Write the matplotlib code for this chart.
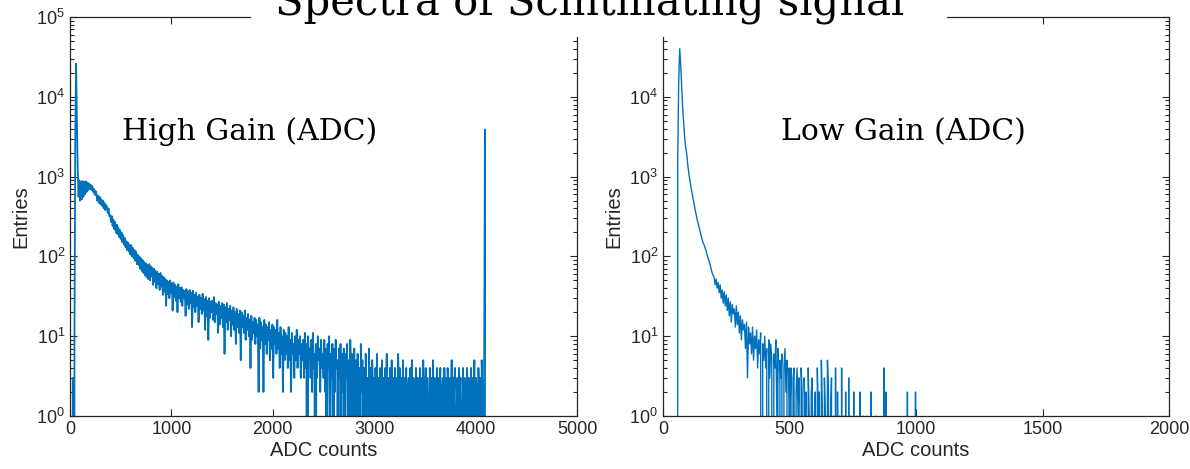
import numpy as np
import matplotlib.pyplot as plt
from matplotlib.patches import Rectangle
from matplotlib.ticker import LogLocator, NullLocator

plt.rcParams['font.family'] = ['Liberation Sans', 'DejaVu Sans']
plt.rcParams['mathtext.default'] = 'regular'

# High gain spectrum, 8 ADC wide bins starting at 0
hg_bin = 8
hg_head = [0, 0, 0, 3, 0, 10, 3000, 26000, 5000, 1300, 560, 900, 500, 860, 520, 880,
           560, 860, 600, 870, 640, 840, 680, 820, 700, 790, 680, 760, 640, 700, 590, 660]
hg_mid = [610, 500, 580, 470, 560, 450, 520, 430, 500, 400, 470, 380, 440,
          420, 350, 400, 320, 330, 270, 320, 240, 290, 220, 270, 200, 250,
          190, 230, 175, 215, 165, 200, 150, 185, 140, 170, 130, 155, 120,
          150, 115, 140, 105, 138, 100, 128, 95, 120, 88, 115, 80, 105,
          78, 100, 70, 95, 66, 90, 62, 85, 58, 82, 55, 78, 52,
          80, 50, 75, 56, 72, 44, 70, 48, 66, 40, 64, 45, 60,
          38, 62, 42, 57, 33, 55, 36, 52, 24, 50, 34, 48, 30,
          50, 35, 46, 21, 47, 31, 44, 28, 42, 20, 45, 30, 40,
          27, 41, 24, 38, 30, 37, 18, 39, 25, 36, 22, 38, 26,
          35, 13, 37, 23, 33, 20, 35, 24, 31, 15, 33, 22, 30,
          19, 34, 21, 29, 12, 31, 18, 28, 9, 30, 17, 27, 20,
          28, 16, 31, 15, 26, 19, 25, 11, 27, 14, 24, 17, 26,
          13, 25, 6, 23, 15, 26, 12, 22, 16, 24, 10, 21, 14,
          23, 12, 20, 8, 22, 13, 19, 11, 21, 5, 20, 13, 18,
          11, 21, 9, 17, 12, 19, 10, 16, 4, 18, 9, 15, 11,
          17, 8, 16, 10, 14, 2, 17, 7, 15, 9, 13, 2, 16,
          8, 14, 6, 13, 9, 15, 5, 12, 7, 14, 3, 13, 8,
          12, 6, 16, 7, 11, 4, 13, 6, 10, 2, 12, 5, 11,
          6, 10, 4, 13, 5, 9, 2, 11, 6, 8, 3, 10, 5,
          12, 4, 9, 6, 10, 3, 8, 5]
hg_tail = [9, 3, 11, 4, 8, 0, 10, 5, 7, 3, 9, 2, 11, 4, 6, 0, 8, 3, 10, 5, 7, 2, 9, 4, 6,
           3, 9, 2, 7, 0, 8, 4, 10, 1, 6, 3, 8, 0, 7, 2, 9, 4, 5, 0, 7, 3, 8, 1, 6, 2,
           7, 0, 6, 3, 8, 1, 5, 0, 9, 2, 6, 0, 4, 7, 1, 5, 0, 6, 3, 4, 0, 8, 2, 5, 1,
           4, 0, 6, 2, 3, 0, 7, 1, 4, 0, 5, 2, 3, 0, 4, 1, 6, 0, 3, 2, 4, 0, 5, 1, 3,
           0, 4, 2, 6, 0, 3, 1, 4, 0, 5, 2, 3, 0, 4, 1, 3, 0, 6, 2, 4, 0, 3, 1, 5, 0,
           3, 1, 4, 0, 2, 3, 0, 4, 1, 5, 0, 3, 2, 0, 4, 1, 3, 0, 2, 4, 0, 3, 1, 5, 0,
           2, 4, 0, 3, 1, 0, 4, 2, 3, 0, 5, 1, 3, 0, 2, 4, 0, 3, 1, 4, 0, 2, 3, 0, 4,
           1, 3, 0, 4, 2, 0, 3, 1, 5, 0, 3, 2, 4, 0, 1, 3, 0, 4, 2, 3, 0, 1, 4, 0, 3,
           2, 0, 4, 1, 3, 0, 2, 4, 0, 3, 1, 5, 0, 3, 2, 0, 4, 1, 3, 0, 5, 2, 0, 3,
           3900, 0]

# Low gain spectrum, 4 ADC wide bins starting at 0
lg_bin = 4
lg_head = [0] * 14 + [1500, 15000, 40000, 25000, 13000, 7000, 4500, 3000, 2300, 1900,
                      1400, 1100, 900, 750, 640, 540, 470, 400, 345, 300, 265, 235,
                      210, 185, 165, 150, 140, 128, 118, 105, 95, 88, 80, 70, 62, 58]
lg_tail = [55, 44, 52, 40, 47, 35, 44, 30, 38, 26, 36, 24, 33,
           21, 30, 18, 27, 15, 25, 19, 22, 13, 24, 14, 20,
           11, 18, 9, 16, 12, 14, 7, 15, 3, 13, 8, 11, 6,
           13, 5, 10, 7, 12, 4, 9, 6, 11, 0, 8, 5,
           10, 4, 7, 0, 9, 3, 8, 5, 0, 6, 4, 9, 1,
           7, 0, 5, 3, 6, 0, 4, 7, 2, 5, 0, 4,
           1, 4, 0, 3, 4, 0, 2, 4, 1, 3, 0, 4, 2,
           0, 3, 1, 2, 0, 4, 1, 0, 2, 3, 0, 1,
           2, 0, 4, 1, 2, 0, 5, 1, 0, 3, 1, 0, 5,
           2, 0, 1, 3, 0, 1, 0, 4, 0, 2, 0, 1,
           0, 4, 0, 1, 0, 2, 0, 0, 3, 0, 1, 0, 0,
           2, 0, 0, 1, 0, 0, 2, 0, 0, 1, 0, 0,
           0, 1, 0, 0, 0, 2, 0, 0, 0, 0, 1, 0, 0,
           0, 0, 0, 0, 0, 4, 0, 2, 0, 0, 0, 0,
           0, 0, 0, 0, 0, 0, 0, 0, 0, 0, 0, 0, 0,
           0, 0, 0, 2, 0, 0, 0, 0, 0, 0, 0, 2, 0]

hg_counts = np.array(hg_head + hg_mid + hg_tail, dtype=float)
hg_adc = hg_bin / 2 + hg_bin * np.arange(len(hg_counts))
lg_counts = np.array(lg_head + lg_tail, dtype=float)
lg_adc = lg_bin / 2 + lg_bin * np.arange(len(lg_counts))

blue = '#0072BD'
dark = '#262626'

fig = plt.figure(figsize=(11.9, 4.69), dpi=100)
ax1 = fig.add_axes([70 / 1190, 1 - 416 / 469, 507 / 1190, 399 / 469])
ax2 = fig.add_axes([663 / 1190, 1 - 416 / 469, 506 / 1190, 399 / 469])


def style(ax, xmax, xticks):
    ax.set_yscale('log', nonpositive='clip')
    ax.set_ylim(1, 1e5)
    ax.set_xlim(0, xmax)
    ax.set_xticks(xticks)
    ax.xaxis.set_minor_locator(NullLocator())
    ax.yaxis.set_major_locator(LogLocator(base=10, numticks=10))
    ax.yaxis.set_minor_locator(LogLocator(base=10, subs=np.arange(2, 10), numticks=20))
    ax.tick_params(which='both', direction='in', top=True, right=True,
                   colors=dark, labelsize=13, width=0.8)
    ax.tick_params(which='major', length=5)
    ax.tick_params(which='minor', length=3)
    for s in ax.spines.values():
        s.set_color(dark)
        s.set_linewidth(0.9)
    ax.set_xlabel('ADC counts', fontsize=14.5, color=dark, labelpad=2)
    ax.set_ylabel('Entries', fontsize=14.5, color=dark, labelpad=4)


ax1.plot(hg_adc, hg_counts, color=blue, lw=1.3)
ax2.plot(lg_adc, lg_counts, color=blue, lw=1.0)
style(ax1, 5000, [0, 1000, 2000, 3000, 4000, 5000])
style(ax2, 2000, [0, 500, 1000, 1500, 2000])

serif = ['DejaVu Serif']
fig.text(250 / 1190, 1 - 132 / 469, 'High Gain (ADC)', ha='center', va='center',
         fontsize=21.5, family=serif)
fig.text(903 / 1190, 1 - 132 / 469, 'Low Gain (ADC)', ha='center', va='center',
         fontsize=21.5, family=serif)

fig.add_artist(Rectangle((251 / 1190, 1 - 37 / 469), (947 - 251) / 1190, 37 / 469,
                         transform=fig.transFigure, facecolor='white',
                         edgecolor='none', zorder=5))
fig.text(590 / 1190, 1 - 15 / 469, 'Spectra of Scintillating signal', ha='center',
         va='baseline', fontsize=30, family=serif, zorder=6)

fig.savefig('out.png', dpi=100)
